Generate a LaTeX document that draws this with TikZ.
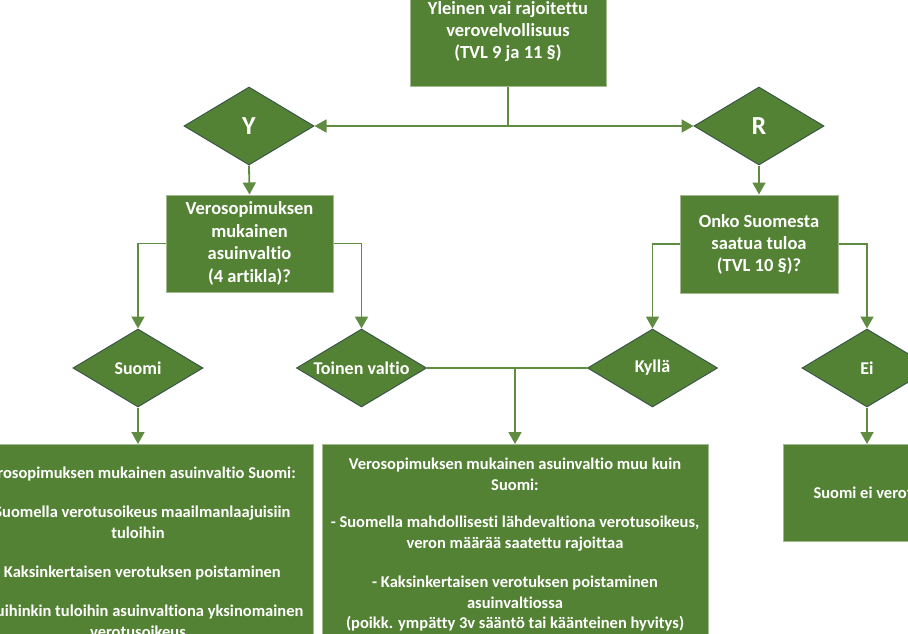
\documentclass[tikz,border=0pt]{standalone}
\usepackage{fontspec}
\setmainfont{Carlito}[Ligatures=NoCommon]
\usetikzlibrary{shapes.geometric,arrows.meta}
\definecolor{gfill}{RGB}{84,130,53}
\definecolor{gline}{RGB}{96,140,66}
\definecolor{dborder}{RGB}{58,86,72}
\definecolor{bborder}{RGB}{165,185,145}
\begin{document}
\begin{tikzpicture}[x=1pt,y=-1pt,
 box/.style={draw=bborder, line width=1pt, fill=gfill, rectangle, inner sep=0pt},
 dia/.style={draw=dborder, line width=1pt, fill=gfill, diamond, inner sep=0pt, minimum width=130pt, minimum height=78pt},
 txt/.style={text=white, font=\bfseries\fontsize{18.5}{22}\selectfont, align=center},
 btxt/.style={text=white, font=\bfseries\fontsize{16.5}{20.7}\selectfont, align=center, inner sep=0pt},
 dtxt/.style={text=white, font=\bfseries\fontsize{18}{20}\selectfont, inner sep=0pt},
 bigtxt/.style={text=white, font=\bfseries\fontsize{26}{30}\selectfont, inner sep=0pt},
 conn/.style={draw=gline, line width=1.8pt},
 arr/.style={conn, -{Triangle[length=12pt,width=13pt]}},
]
\useasboundingbox (0,0) rectangle (908,634);

% top box
\node[box, minimum width=196pt, minimum height=114pt] (top) at (508,30) {};
\node[txt, inner sep=0pt] (toptext) at (508,32)
  {Yleinen vai rajoitettu\\verovelvollisuus\\(TVL 9 ja 11 §)};

% first diamonds
\node[dia, label={[bigtxt]center:Y}] (Y) at (249,126) {};
\node[dia, label={[bigtxt]center:R}] (R) at (759,126) {};

% second level boxes
\node[box, txt, font=\bfseries\fontsize{18.5}{22.7}\selectfont, minimum width=167pt, minimum height=97pt] (vb) at (249.5,243.5)
  {Verosopimuksen\\mukainen\\asuinvaltio\\(4 artikla)?};
\node[box, txt, minimum width=158pt, minimum height=98pt] (onko) at (759,244)
  {Onko Suomesta\\saatua tuloa\\(TVL 10 §)?};

% second diamonds
\node[dia, label={[dtxt]center:Suomi}] (suomi) at (138,368) {};
\node[dia, label={[dtxt]center:Toinen valtio}] (tv) at (361.5,368) {};
\node[dia, label={[dtxt]center:Kyllä}] (kylla) at (652.5,368) {};
\node[dia, label={[dtxt]center:Ei}] (ei) at (867,368) {};

% bottom boxes
\node[box, minimum width=350pt, minimum height=236pt, anchor=north] (lbox) at (138,444) {};
\node[btxt, anchor=north] (ltext) at (138,467)
  {Verosopimuksen mukainen asuinvaltio Suomi:\\[18pt]
   - Suomella verotusoikeus maailmanlaajuisiin\\tuloihin\\[19pt]
   - Kaksinkertaisen verotuksen poistaminen\\[18pt]
   - Muihinkin tuloihin asuinvaltiona yksinomainen\\verotusoikeus};

\node[box, minimum width=386pt, minimum height=236pt, anchor=north] (mbox) at (515,444) {};
\node[btxt, anchor=north] (mtext) at (515,458)
  {Verosopimuksen mukainen asuinvaltio muu kuin\\Suomi:\\[16.5pt]
   - Suomella mahdollisesti lähdevaltiona verotusoikeus,\\veron määrää saatettu rajoittaa\\[18.5pt]
   - Kaksinkertaisen verotuksen poistaminen\\asuinvaltiossa\\(poikk. ympätty 3v sääntö tai käänteinen hyvitys)};

\node[box, btxt, minimum width=168pt, minimum height=97pt, anchor=north] (ebox) at (867,444) {Suomi ei verota};

% connectors
\coordinate (c) at (top.south |- Y.east);
\draw[conn] (top.south) -- (c);
\draw[arr] (c) -- (Y.east);
\draw[arr] (c) -- (R.west);
\draw[arr] (Y.south) -- (vb.north);
\draw[arr] (R.south) -- (onko.north);
\draw[arr] (vb.west) -| (suomi.north);
\draw[arr] (vb.east) -| (tv.north);
\draw[arr] (onko.west) -| (kylla.north);
\draw[arr] (onko.east) -| (ei.north);
\draw[arr] (suomi.south) -- (lbox.north);
\coordinate (m) at (mbox.north |- tv.east);
\draw[conn] (tv.east) -- (kylla.west);
\draw[arr] (m) -- (mbox.north);
\draw[arr] (ei.south) -- (ebox.north);
\end{tikzpicture}
\end{document}
